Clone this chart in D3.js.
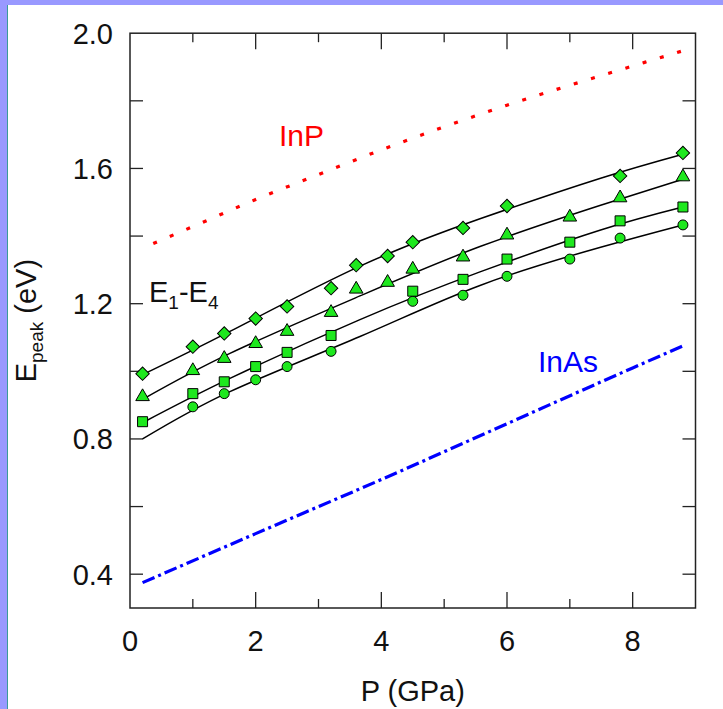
<!DOCTYPE html>
<html>
<head>
<meta charset="utf-8">
<script src="https://cdn.jsdelivr.net/npm/d3@7"></script>
<style>
  html, body { margin: 0; padding: 0; background: #fff; }
  svg { display: block; font-family: "Liberation Sans", Arial, sans-serif; }
</style>
</head>
<body>
<svg id="chart" width="723" height="709"></svg>
<script>
// measured peaks E1..E4 (eV) vs pressure (GPa)
const e4P = [0.2, 1.0, 1.5, 2.0, 2.5, 3.2, 3.6, 4.1, 4.5, 5.3, 6.0, 7.8, 8.8];
const e4E = [0.993, 1.073, 1.112, 1.156, 1.192, 1.246, 1.314, 1.341, 1.382, 1.424, 1.489, 1.578, 1.646];
const e3P = [0.2, 1.0, 1.5, 2.0, 2.5, 3.2, 3.6, 4.1, 4.5, 5.3, 6.0, 7.0, 7.8, 8.8];
const e3E = [0.925, 1.002, 1.038, 1.082, 1.118, 1.174, 1.243, 1.263, 1.302, 1.338, 1.403, 1.456, 1.513, 1.575];
const e2P = [0.2, 1.0, 1.5, 2.0, 2.5, 3.2, 4.5, 5.3, 6.0, 7.0, 7.8, 8.8];
const e2E = [0.851, 0.934, 0.969, 1.014, 1.056, 1.106, 1.237, 1.272, 1.332, 1.382, 1.445, 1.486];
const e1P = [1.0, 1.5, 2.0, 2.5, 3.2, 4.5, 5.3, 6.0, 7.0, 7.8, 8.8];
const e1E = [0.895, 0.934, 0.975, 1.014, 1.059, 1.207, 1.225, 1.281, 1.332, 1.394, 1.433];

// fitted curves at these pressures
const fitP  = [0.2, 1.59, 3.66, 5.57, 7.49, 8.8];
const fitE4 = [0.99, 1.118, 1.311, 1.451, 1.571, 1.642];
const fitE3 = [0.917, 1.053, 1.223, 1.369, 1.491, 1.568];
const fitE2 = [0.848, 0.979, 1.153, 1.294, 1.418, 1.486];
const fitE1 = [0.800, 0.940, 1.103, 1.254, 1.367, 1.433];

// bulk band gaps
const inpP  = [0.37, 1.0, 2.0, 3.0, 4.0, 5.0, 6.0, 7.0, 8.0, 8.8];
const inpE  = [1.378, 1.428, 1.508, 1.582, 1.655, 1.723, 1.787, 1.846, 1.903, 1.948];
const inasP = [0.2, 2.0, 4.0, 6.0, 8.0, 8.8];
const inasE = [0.375, 0.52, 0.68, 0.845, 1.01, 1.075];

const xTicks = [0, 2, 4, 6, 8];
const yTicks = [0.4, 0.8, 1.2, 1.6, 2.0];

const svg = d3.select("#chart");

// lavender page border
svg.append("rect").attr("x", 0).attr("y", 0).attr("width", 723).attr("height", 5).attr("fill", "#9999ff");
svg.append("rect").attr("x", 0).attr("y", 0).attr("width", 7).attr("height", 709).attr("fill", "#9999ff");
svg.append("line").attr("x1", 7.5).attr("x2", 7.5).attr("y1", 5).attr("y2", 709).attr("stroke", "#3a9a9a").attr("stroke-width", 1);

const x = d3.scaleLinear().domain([0, 9]).range([130, 695.5]);
const y = d3.scaleLinear().domain([0.3, 2.0]).range([608, 33.2]);
const ink = "#222";

// frame
svg.append("rect")
  .attr("x", x(0)).attr("y", y(2.0))
  .attr("width", x(9) - x(0)).attr("height", y(0.3) - y(2.0))
  .attr("fill", "none").attr("stroke", ink).attr("stroke-width", 1.5);

// inward ticks, all four sides
const g = svg.append("g").attr("stroke", ink).attr("stroke-width", 1.3);
d3.range(1, 9).forEach(v => {
  const len = v % 2 === 0 ? 16 : 9;
  g.append("line").attr("x1", x(v)).attr("x2", x(v)).attr("y1", y(0.3)).attr("y2", y(0.3) - len);
  g.append("line").attr("x1", x(v)).attr("x2", x(v)).attr("y1", y(2.0)).attr("y2", y(2.0) + len);
});
d3.range(0.4, 1.9, 0.2).forEach(v => {
  g.append("line").attr("x1", x(0)).attr("x2", x(0) + 13).attr("y1", y(v)).attr("y2", y(v));
  g.append("line").attr("x1", x(9)).attr("x2", x(9) - 13).attr("y1", y(v)).attr("y2", y(v));
});

// tick labels
svg.append("g").selectAll("text").data(xTicks).join("text")
  .attr("x", d => x(d)).attr("y", 651)
  .attr("text-anchor", "middle").attr("font-size", 29).attr("fill", "#111")
  .text(d => d);
svg.append("g").selectAll("text").data(yTicks).join("text")
  .attr("x", 113).attr("y", d => y(d) + 10.5)
  .attr("text-anchor", "end").attr("font-size", 29).attr("fill", "#111")
  .text(d => d.toFixed(1));

// axis titles
svg.append("text").attr("x", x(4.5)).attr("y", 701)
  .attr("text-anchor", "middle").attr("font-size", 29).attr("fill", "#111")
  .text("P (GPa)");
const yt = svg.append("text")
  .attr("transform", `translate(36,${(y(0.3) + y(2.0)) / 2}) rotate(-90)`)
  .attr("text-anchor", "middle").attr("font-size", 29).attr("fill", "#111");
yt.append("tspan").text("E");
yt.append("tspan").attr("font-size", 19).attr("dy", 7).text("peak");
yt.append("tspan").attr("dy", -7).text(" (eV)");

// bulk lines
const line = d3.line().x(d => x(d[0])).y(d => y(d[1]));
svg.append("path").datum(d3.zip(inpP, inpE))
  .attr("d", line.curve(d3.curveMonotoneX))
  .attr("fill", "none").attr("stroke", "#ff0000").attr("stroke-width", 3.2)
  .attr("stroke-dasharray", "4,14");
svg.append("path").datum(d3.zip(inasP, inasE))
  .attr("d", line.curve(d3.curveMonotoneX))
  .attr("fill", "none").attr("stroke", "#0000ff").attr("stroke-width", 3.2)
  .attr("stroke-dasharray", "13,4,3,4");

// fitted curves
[fitE1, fitE2, fitE3, fitE4].forEach(f => {
  svg.append("path").datum(d3.zip(fitP, f))
    .attr("d", line.curve(d3.curveNatural))
    .attr("fill", "none").attr("stroke", "#000").attr("stroke-width", 1.5);
});

// markers; the diamond is a square turned 45 degrees
const green = "#1ee81e";
const series = [
  { p: e1P, e: e1E, type: d3.symbolCircle, size: 78, rot: 0 },
  { p: e2P, e: e2E, type: d3.symbolSquare, size: 100, rot: 0 },
  { p: e3P, e: e3E, type: d3.symbolTriangle, size: 80, rot: 0 },
  { p: e4P, e: e4E, type: d3.symbolSquare, size: 90, rot: 45 },
];
series.forEach(s => {
  svg.append("g").selectAll("path").data(d3.zip(s.p, s.e)).join("path")
    .attr("transform", d => `translate(${x(d[0])},${y(d[1])}) rotate(${s.rot})`)
    .attr("d", d3.symbol().type(s.type).size(s.size))
    .attr("fill", green).attr("stroke", "#000").attr("stroke-width", 1);
});

// labels
svg.append("text").attr("x", 279).attr("y", 146).attr("font-size", 30).attr("fill", "#ff0000").text("InP");
svg.append("text").attr("x", 538).attr("y", 372).attr("font-size", 30).attr("fill", "#0000ff").text("InAs");
const el = svg.append("text").attr("x", 149).attr("y", 302).attr("font-size", 29).attr("fill", "#111");
el.append("tspan").text("E");
el.append("tspan").attr("font-size", 19).attr("dy", 7).text("1");
el.append("tspan").attr("dy", -7).text("-E");
el.append("tspan").attr("font-size", 19).attr("dy", 7).text("4");
</script>
</body>
</html>
